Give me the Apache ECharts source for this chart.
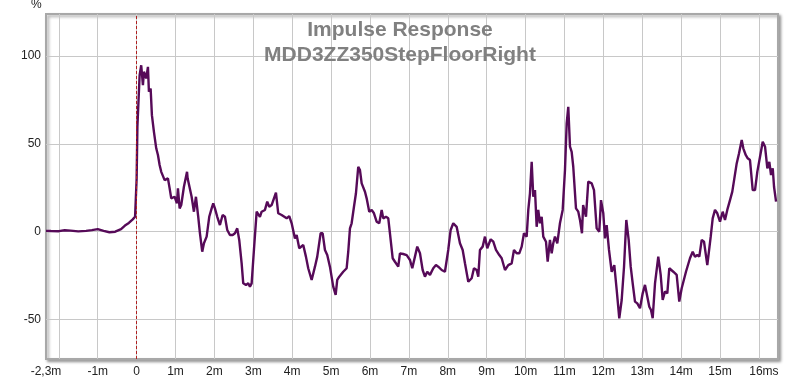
<!DOCTYPE html>
<html>
<head>
<meta charset="utf-8">
<script src="https://cdn.jsdelivr.net/npm/echarts@6/dist/echarts.min.js"></script>
<style>html,body{margin:0;padding:0;background:#fff}#c{width:800px;height:381px}</style>
</head>
<body>
<div id="c"></div>
<script>
const timeMs = [-2.33,-2.2,-2.0,-1.85,-1.7,-1.5,-1.3,-1.15,-1.0,-0.85,-0.7,-0.55,-0.4,-0.3,-0.2,-0.1,-0.04,0.0,0.02,
0.077,0.118,0.162,0.188,0.247,0.291,0.316,0.360,0.393,0.445,0.504,0.548,0.591,0.633,0.720,0.805,0.849,0.890,0.977,1.036,1.062,1.106,1.147,1.165,1.216,1.296,1.311,1.353,1.414,1.473,1.525,1.584,1.628,1.687,1.731,1.800,1.867,1.929,1.970,2.013,2.073,2.142,2.211,2.271,2.330,2.399,2.469,2.528,2.587,2.638,2.700,2.741,2.811,2.870,2.913,2.957,3.016,3.086,3.170,3.214,3.299,3.358,3.410,3.471,3.582,3.641,3.728,3.770,3.857,3.924,3.986,4.070,4.114,4.181,4.284,4.353,4.412,4.500,4.585,4.644,4.731,4.783,4.842,4.901,4.970,5.055,5.117,5.158,5.210,5.246,5.312,5.400,5.441,5.485,5.528,5.588,5.639,5.698,5.742,5.786,5.871,5.914,5.981,6.043,6.102,6.171,6.238,6.300,6.341,6.410,6.470,6.513,6.583,6.642,6.727,6.770,6.855,6.943,7.028,7.087,7.156,7.215,7.285,7.354,7.413,7.472,7.542,7.627,7.696,7.755,7.843,7.927,8.012,8.074,8.141,8.228,8.313,8.383,8.442,8.527,8.614,8.673,8.743,8.784,8.827,8.897,8.956,9.015,9.103,9.170,9.239,9.324,9.386,9.471,9.555,9.643,9.702,9.771,9.838,9.900,9.959,10.028,10.070,10.113,10.157,10.198,10.242,10.285,10.326,10.370,10.414,10.455,10.525,10.568,10.627,10.671,10.712,10.756,10.815,10.884,10.954,11.013,11.057,11.098,11.142,11.185,11.226,11.296,11.355,11.399,11.45,11.480,11.553,11.612,11.700,11.759,11.828,11.895,11.939,11.998,12.042,12.085,12.145,12.214,12.281,12.343,12.409,12.471,12.531,12.590,12.651,12.703,12.754,12.813,12.872,12.942,13.011,13.070,13.130,13.181,13.225,13.268,13.328,13.412,13.474,13.525,13.584,13.644,13.695,13.798,13.885,13.952,14.014,14.124,14.227,14.297,14.356,14.415,14.467,14.528,14.588,14.672,14.760,14.811,14.870,14.929,14.999,15.068,15.127,15.186,15.256,15.315,15.359,15.428,15.487,15.557,15.598,15.660,15.711,15.770,15.840,15.899,15.958,16.028,16.097,16.157,16.216,16.267,16.311,16.355,16.388,16.440];
const responsePct = [0.5,0.4,0.3,0.8,0.6,0.2,0.5,0.9,1.5,0.5,-0.3,0.0,1.5,3.5,5.0,7.0,8.5,30,60,
89.1,94.8,83.5,91.1,87.3,93.9,79.7,81.6,66.4,56.9,47.5,43.7,38.0,34.1,29.4,30.4,24.7,19.0,19.9,16.2,24.7,13.3,15.2,14.6,25.6,34.1,30.4,31.3,19.9,11.4,19.9,8.5,-0.9,-11.4,-6.6,-2.8,8.5,13.3,16.2,13.3,8.5,3.8,9.5,8.5,1.0,-1.9,-1.9,-0.9,1.9,-4.7,-18.0,-29.4,-30.3,-29.4,-31.3,-29.4,-10.4,11.4,8.5,11.4,12.4,17.1,14.2,15.2,22.2,10.5,9.5,8.5,7.6,8.9,4.8,-3.8,-1.9,-9.4,-7.6,-14.2,-20.8,-27.5,-19.9,-14.2,-0.9,-0.9,-10.4,-13.3,-19.9,-31.3,-36.0,-27.5,-25.6,-26.5,-22.8,-20.8,-11.4,1.9,4.8,14.2,21.9,37.0,35.1,27.5,22.8,19.0,11.4,12.4,10.5,5.7,4.8,12.4,7.6,8.5,7.6,-0.9,-15.1,-17.1,-19.9,-12.3,-12.7,-13.3,-16.1,-20.8,-14.2,-8.5,-12.3,-21.8,-25.6,-22.8,-24.6,-20.8,-19.0,-19.9,-21.8,-22.8,-10.4,1.0,4.8,2.8,-6.6,-10.4,-18.0,-28.5,-26.5,-20.8,-21.8,-25.6,-10.4,-8.5,-2.8,-9.4,-4.3,-5.7,-10.4,-13.3,-15.1,-21.8,-19.0,-18.0,-10.4,-12.3,-12.3,-8.5,-0.9,-2.8,12.4,21.9,39.8,19.9,23.7,2.8,12.4,4.8,8.5,-2.8,-5.7,-17.1,-4.7,-12.3,-6.6,-2.8,-6.6,4.8,12.4,35.1,61.7,71.1,48.4,45.5,37.0,13.3,11.4,6.7,-0.9,15.2,8.5,28.5,27.5,23.7,1.9,0.0,18.0,10.5,-3.8,3.8,-10.4,-22.8,-19.0,-33.2,-49.3,-38.9,-20.1,6.7,-4.7,-19.9,-29.4,-39.8,-40.8,-43.6,-35.1,-30.3,-37.0,-42.7,-44.6,-49.3,-29.4,-14.2,-24.6,-38.9,-34.1,-35.1,-20.8,-22.8,-24.6,-39.8,-32.2,-22.8,-15.1,-11.4,-14.2,-13.3,-14.2,-4.7,-5.7,-19.0,-2.8,7.6,12.4,10.5,5.7,11.4,6.7,12.4,18.0,22.8,21.9,38.9,44.6,52.2,47.5,43.7,41.8,40.8,23.7,23.7,34.1,42.7,51.2,48.4,36.1,39.8,32.3,36.1,25.6,17.1];

const xGridValues = [-2,-1,0,1,2,3,4,5,6,7,8,9,10,11,12,13,14,15,16];
const xLabelValues = [-2.33,-1,0,1,2,3,4,5,6,7,8,9,10,11,12,13,14,15,16];
const xLabelTexts = ['-2,3m','-1m','0','1m','2m','3m','4m','5m','6m','7m','8m','9m','10m','11m','12m','13m','14m','15m','16ms'];
const yTickValues = [-50,0,50,100];
const yTickTexts = ['-50','0','50','100'];

const data = timeMs.map((t,i)=>[t,responsePct[i]]);
const chart = echarts.init(document.getElementById('c'), null, {renderer:'canvas'});
const font = 'Liberation Sans, Arial, sans-serif';
chart.setOption({
  animation:false,
  backgroundColor:'#ffffff',
  title:{
    text:'Impulse Response\nMDD3ZZ350StepFloorRight',
    left:'center', top:13,
    textStyle:{color:'#808080',fontSize:21,fontWeight:'bold',fontFamily:font,lineHeight:24.5}
  },
  graphic:[{type:'text',left:31,top:-1,style:{text:'%',fontSize:12,fontFamily:font,fill:'#222'}}],
  grid:{left:46,right:22,top:14,bottom:22,show:true,borderColor:'#a8a8a8',borderWidth:2,backgroundColor:'#fff',
        shadowColor:'rgba(0,0,0,0.35)',shadowBlur:3,shadowOffsetX:2,shadowOffsetY:2},
  xAxis:{
    type:'value',min:-2.33,max:16.49,
    axisLine:{show:false},
    axisTick:{show:false,customValues:xGridValues},
    splitLine:{show:true,lineStyle:{color:'#c8c8c8',width:1}},
    axisLabel:{customValues:xLabelValues,color:'#222',fontSize:12,fontFamily:font,margin:7,
      formatter:(v)=>{const i=xLabelValues.findIndex(a=>Math.abs(a-v)<1e-6);const s=i>=0?xLabelTexts[i]:'';return i===xLabelValues.length-1?'{e|'+s+'}':s;},
      rich:{e:{padding:[0,0,0,10],fontSize:12,fontFamily:font,color:'#222'}}}
  },
  yAxis:{
    type:'value',min:-72.5,max:124,
    axisLine:{show:false},
    axisTick:{show:false,customValues:yTickValues},
    splitLine:{show:true,lineStyle:{color:'#c8c8c8',width:1}},
    axisLabel:{customValues:yTickValues,color:'#222',fontSize:12,fontFamily:font,margin:5,
      formatter:(v)=>{const i=yTickValues.indexOf(v);return i>=0?yTickTexts[i]:'';}}
  },
  series:[{
    type:'line',data:data,showSymbol:false,symbol:'none',
    lineStyle:{color:'#560a58',width:2.4},
    z:3,
    markLine:{silent:true,symbol:'none',label:{show:false},
      lineStyle:{color:'#b02020',type:[3,2],width:1},
      data:[{xAxis:0}]}
  }]
});
</script>
</body>
</html>
